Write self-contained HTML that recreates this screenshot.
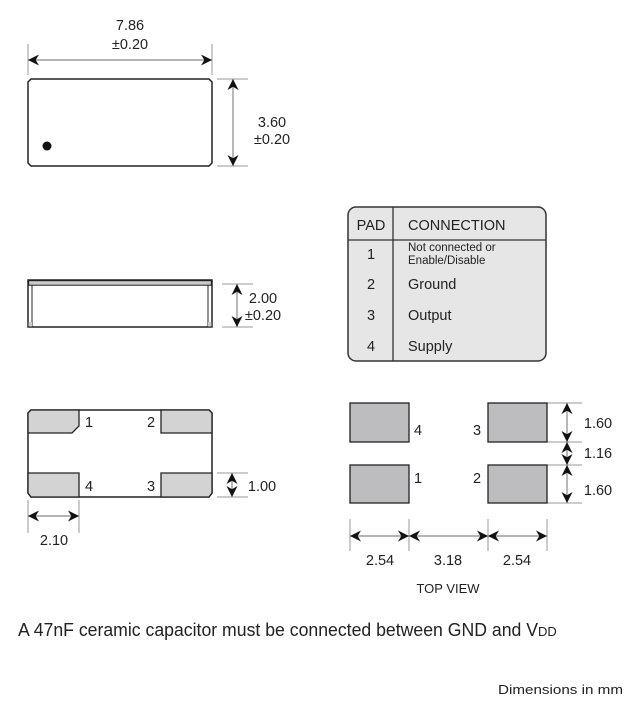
<!DOCTYPE html>
<html><head><meta charset="utf-8"><style>body{margin:0;background:#fff}svg{display:block}text{font-family:"Liberation Sans",sans-serif;fill:#222}</style></head><body>
<svg width="631" height="707" viewBox="0 0 631 707" xmlns="http://www.w3.org/2000/svg">
<defs>
<marker id="a" viewBox="0 0 10 10" refX="10" refY="5" markerWidth="11" markerHeight="11" orient="auto-start-reverse" markerUnits="userSpaceOnUse"><path d="M0,0 L10,5 L0,10 L3,5z" fill="#111"/></marker>
</defs>
<g stroke="#999" stroke-width="1">
<line x1="28" y1="44" x2="28" y2="75"/><line x1="212" y1="44" x2="212" y2="75"/>
<line x1="217" y1="79" x2="248" y2="79"/><line x1="217" y1="166" x2="248" y2="166"/>
<line x1="222" y1="284" x2="253" y2="284"/><line x1="222" y1="327" x2="253" y2="327"/>
<line x1="217" y1="473" x2="248" y2="473"/><line x1="217" y1="497" x2="248" y2="497"/>
<line x1="28" y1="500" x2="28" y2="533"/><line x1="79" y1="500" x2="79" y2="533"/>
<line x1="547" y1="403" x2="582" y2="403"/><line x1="547" y1="442" x2="582" y2="442"/>
<line x1="547" y1="465" x2="582" y2="465"/><line x1="547" y1="503" x2="582" y2="503"/>
<line x1="350" y1="519" x2="350" y2="551"/><line x1="409" y1="519" x2="409" y2="551"/>
<line x1="488" y1="519" x2="488" y2="551"/><line x1="547" y1="519" x2="547" y2="551"/>
</g>
<g stroke="#888" stroke-width="1.2" marker-start="url(#a)" marker-end="url(#a)">
<line x1="28" y1="60" x2="212" y2="60"/>
<line x1="233" y1="79" x2="233" y2="166"/>
<line x1="237" y1="284" x2="237" y2="327"/>
<line x1="232" y1="473" x2="232" y2="497"/>
<line x1="28" y1="516" x2="79" y2="516"/>
<line x1="567" y1="403" x2="567" y2="442"/>
<line x1="567" y1="442" x2="567" y2="465"/>
<line x1="567" y1="465" x2="567" y2="503"/>
<line x1="350" y1="536" x2="409" y2="536"/>
<line x1="409" y1="536" x2="488" y2="536"/>
<line x1="488" y1="536" x2="547" y2="536"/>
</g>
<path d="M31,79 H209 L212,82 V163 L209,166 H31 L28,163 V82z" fill="#fff" stroke="#222" stroke-width="1.5"/>
<circle cx="47" cy="146" r="4.5" fill="#111"/>
<rect x="28" y="280" width="184" height="47" fill="#fff" stroke="#222" stroke-width="1.5"/>
<rect x="28.7" y="280.7" width="182.6" height="4.5" fill="#ccc" stroke="#222" stroke-width="1"/>
<line x1="32" y1="285" x2="32" y2="327" stroke="#222"/><line x1="208" y1="285" x2="208" y2="327" stroke="#222"/>
<rect x="28.5" y="322" width="3.5" height="4.5" fill="#ccc"/><rect x="208" y="322" width="3.5" height="4.5" fill="#ccc"/>
<path d="M31,410 H209 L212,413 V493 L209,497 H31 L28,493 V413z" fill="#fff" stroke="#222" stroke-width="1.5"/>
<g fill="#d3d3d3" stroke="#222" stroke-width="1.3">
<path d="M31,410 H79 V426 L72,433 H28 V413z"/>
<path d="M161,410 H209 L212,413 V433 H161z"/>
<path d="M28,473 H79 V497 H31 L28,493z"/>
<path d="M161,473 H212 V493 L209,497 H161z"/>
</g>
<g fill="#bdbdbf" stroke="#222" stroke-width="1.3">
<rect x="350" y="403" width="59" height="39"/><rect x="488" y="403" width="59" height="39"/>
<rect x="350" y="465" width="59" height="38"/><rect x="488" y="465" width="59" height="38"/>
</g>
<rect x="348" y="207" width="198" height="154" rx="8" fill="#e6e6e6" stroke="#333" stroke-width="1.5"/>
<line x1="348" y1="240" x2="546" y2="240" stroke="#333" stroke-width="1.3"/>
<line x1="393" y1="207" x2="393" y2="361" stroke="#333" stroke-width="1.3"/>
<g font-size="14.5">
<text x="130" y="30" text-anchor="middle">7.86</text><text x="130" y="49" text-anchor="middle">±0.20</text>
<text x="272" y="127" text-anchor="middle">3.60</text><text x="272" y="144" text-anchor="middle">±0.20</text>
<text x="263" y="303" text-anchor="middle">2.00</text><text x="263" y="320" text-anchor="middle">±0.20</text>
<text x="85" y="427">1</text><text x="147" y="427">2</text>
<text x="85" y="491">4</text><text x="147" y="491">3</text>
<text x="262" y="491" text-anchor="middle">1.00</text>
<text x="54" y="545" text-anchor="middle">2.10</text>
<text x="414" y="435">4</text><text x="473" y="435">3</text>
<text x="414" y="483">1</text><text x="473" y="483">2</text>
<text x="598" y="428" text-anchor="middle">1.60</text>
<text x="598" y="458" text-anchor="middle">1.16</text>
<text x="598" y="495" text-anchor="middle">1.60</text>
<text x="380" y="565" text-anchor="middle">2.54</text>
<text x="448" y="565" text-anchor="middle">3.18</text>
<text x="517" y="565" text-anchor="middle">2.54</text>
<text x="448" y="593" text-anchor="middle" font-size="13">TOP VIEW</text>
<text x="371" y="230" text-anchor="middle">PAD</text><text x="408" y="230">CONNECTION</text>
<text x="371" y="259" text-anchor="middle">1</text>
<text x="408" y="251" font-size="11.5">Not connected or</text><text x="408" y="264" font-size="11.5">Enable/Disable</text>
<text x="371" y="289" text-anchor="middle">2</text><text x="408" y="289">Ground</text>
<text x="371" y="320" text-anchor="middle">3</text><text x="408" y="320">Output</text>
<text x="371" y="351" text-anchor="middle">4</text><text x="408" y="351">Supply</text>
</g>
<text x="18" y="636" font-size="18" textLength="520" lengthAdjust="spacingAndGlyphs">A 47nF ceramic capacitor must be connected between GND and V</text><text x="538" y="636" font-size="13">DD</text>
<text x="498" y="694" font-size="13" textLength="125" lengthAdjust="spacingAndGlyphs">Dimensions in mm</text>
</svg>
</body></html>
